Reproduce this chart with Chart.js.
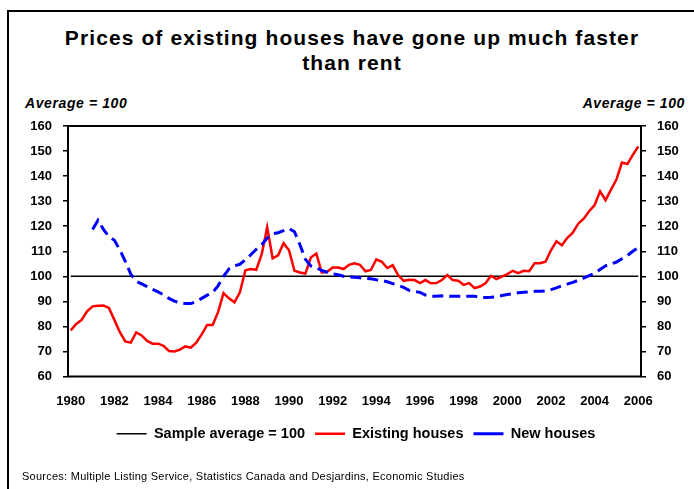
<!DOCTYPE html>
<html lang="en">
<head>
<meta charset="UTF-8">
<title>Prices of existing houses vs rent</title>
<script src="https://cdn.jsdelivr.net/npm/chart.js"></script>
<style>
  body { margin: 0; width: 694px; height: 489px; position: relative; overflow: hidden; background: #fff;
         font-family: 'Liberation Sans', Arial, sans-serif; color: #000; }
  .frame { position: absolute; left: 7px; top: 10px; width: 700px; height: 500px;
           border-left: 2px solid #000; border-top: 2px solid #000; }
  .title { position: absolute; left: 10px; width: 684px; top: 25px; text-align: center;
           font-size: 21px; font-weight: bold; line-height: 25px; letter-spacing: 1.1px; }
  .unit { position: absolute; top: 95px; font-size: 14px; font-weight: bold; font-style: italic; letter-spacing: 0.6px; }
  .sources { position: absolute; left: 22px; top: 470px; font-size: 11px; letter-spacing: 0.25px; }
  #wrap { position: absolute; left: 0; top: 0; width: 694px; height: 489px; }
</style>
</head>
<body>
<div class="frame"></div>
<div class="title">Prices of existing houses have gone up much faster<br>than rent</div>
<div class="unit" style="left:25px">Average = 100</div>
<div class="unit" style="right:9px">Average = 100</div>
<div id="wrap"><canvas id="chart"></canvas></div>
<div class="sources">Sources: Multiple Listing Service, Statistics Canada and Desjardins, Economic Studies</div>
<script>
// quarterly data, 1980Q1 - 2006Q1
const tickYears = ['1980', '1982', '1984', '1986', '1988', '1990', '1992', '1994', '1996', '1998', '2000', '2002', '2004', '2006'];
const quarters = [];
for (let y = 1980; y <= 2006; y++) {
  for (let q = 1; q <= 4; q++) {
    if (quarters.length < 105) quarters.push(y + 'Q' + q);
  }
}
const averageLevel = 100;

const existingHouses = [
  78.4, 81, 82.6, 86, 88, 88.2, 88.3, 87.4, 82.6, 77.7,
  74, 73.5, 77.6, 76.4, 74.2, 73.1, 73.1, 72.2, 70.2, 70,
  70.7, 72, 71.5, 73.5, 76.8, 80.6, 80.6, 85.7, 93.3, 91.2,
  89.6, 93.6, 102.4, 102.9, 102.6, 108.8, 119.6, 107.2, 108.4, 113.2,
  110.4, 102.2, 101.5, 101.1, 107.5, 109.1, 101.5, 101.8, 103.5, 103.5,
  102.9, 104.6, 105.2, 104.6, 102, 102.5, 106.8, 105.8, 103.3, 104.4,
  100.5, 98.2, 98.6, 98.5, 97.3, 98.5, 97.2, 97.3, 98.5, 100.5,
  98.5, 98.2, 96.6, 97.3, 95.3, 95.9, 97.2, 100.2, 98.9, 99.9,
  100.9, 102.2, 101.3, 102.2, 102, 105.2, 105.2, 105.8, 110.4, 114,
  112.4, 115.4, 117.4, 121, 123, 126, 128.4, 133.9, 130.4, 134.6,
  138.6, 145.4, 144.8, 148.5, 151.8
];

const newHouses = [
  null, null, null, null, 118.7, 122.4, 118.7, 115.8, 114.4, 110.5,
  106, 100.9, 98, 97, 95.9, 94.8, 93.8, 92.6, 91.2, 90.1,
  89.5, 89.1, 89.1, 89.9, 91.2, 92.5, 93.5, 96.2, 100, 103,
  104.2, 104.8, 106.6, 108.6, 110.8, 112.6, 115.3, 117, 117.4, 118.2,
  119.1, 117.8, 112.6, 106.8, 104.1, 103.5, 102.3, 101.6, 101, 100.6,
  100, 99.7, 99.6, 99.4, 99.2, 99, 98.6, 98.3, 97.8, 97.1,
  96.4, 95.6, 94.4, 93.9, 93.6, 92.5, 92.1, 92, 92.2, 92.1,
  92, 92, 92, 92, 92, 91.7, 91.5, 91.6, 91.8, 92.3,
  92.7, 93.1, 93.4, 93.6, 93.8, 94, 94, 94.1, 94.7, 95.4,
  96.2, 96.9, 97.6, 98.4, 99.3, 100.3, 101.2, 102.7, 104.2, 104.9,
  105.7, 107, 108.3, 110, 111.5
];

// box around the plot area
const plotFrame = {
  id: 'plotFrame',
  afterDatasetsDraw(chart) {
    const { ctx, chartArea: a } = chart;
    ctx.save();
    ctx.strokeStyle = '#000';
    ctx.lineWidth = 2;
    ctx.strokeRect(a.left, a.top, a.right - a.left, a.bottom - a.top);
    ctx.restore();
  }
};

const tickFont = { family: "'Liberation Sans', Arial, sans-serif", size: 13, weight: 'bold' };
const yAxis = (pos, width) => ({
  type: 'linear',
  position: pos,
  min: 60,
  max: 160,
  ticks: { stepSize: 10, color: '#000', font: tickFont, padding: 11 },
  grid: { drawOnChartArea: false, drawTicks: true, tickLength: 5, color: '#000', lineWidth: 1.5 },
  border: { display: false },
  afterFit: s => { s.width = width; }
});

new Chart(document.getElementById('chart'), {
  type: 'line',
  data: {
    labels: quarters,
    datasets: [
      {
        label: 'Sample average = 100',
        data: quarters.map(() => averageLevel),
        borderColor: '#000',
        backgroundColor: '#000',
        borderWidth: 1.5,
        pointRadius: 0,
        order: 3
      },
      {
        label: 'Existing houses',
        data: existingHouses,
        borderColor: '#ff0000',
        backgroundColor: '#ff0000',
        borderWidth: 2.5,
        pointRadius: 0,
        order: 2
      },
      {
        label: 'New houses',
        data: newHouses,
        borderColor: '#0000ff',
        backgroundColor: '#0000ff',
        borderWidth: 3,
        borderDash: [11, 6],
        pointRadius: 0,
        order: 1
      }
    ]
  },
  options: {
    responsive: true,
    maintainAspectRatio: false,
    animation: false,
    layout: { padding: { top: 126, left: 18, right: 0, bottom: 38 } },
    scales: {
      x: {
        type: 'category',
        offset: true,
        grid: { display: false, drawTicks: false },
        border: { display: false },
        ticks: {
          autoSkip: false,
          maxRotation: 0,
          padding: 17,
          color: '#000',
          font: tickFont,
          callback: (v, i) => (i % 8 === 0 ? tickYears[i / 8] : '')
        },
        afterFit: s => { s.height = 40; }
      },
      y: yAxis('left', 50),
      y1: yAxis('right', 53)
    },
    plugins: {
      legend: {
        position: 'bottom',
        labels: {
          usePointStyle: true,
          pointStyle: 'line',
          pointStyleWidth: 30,
          boxHeight: 13,
          padding: 10,
          color: '#000',
          font: { family: "'Liberation Sans', Arial, sans-serif", size: 14.5, weight: 'bold' },
          sort: (a, b) => a.datasetIndex - b.datasetIndex
        }
      },
      tooltip: { enabled: false }
    }
  },
  plugins: [plotFrame]
});
</script>
</body>
</html>
